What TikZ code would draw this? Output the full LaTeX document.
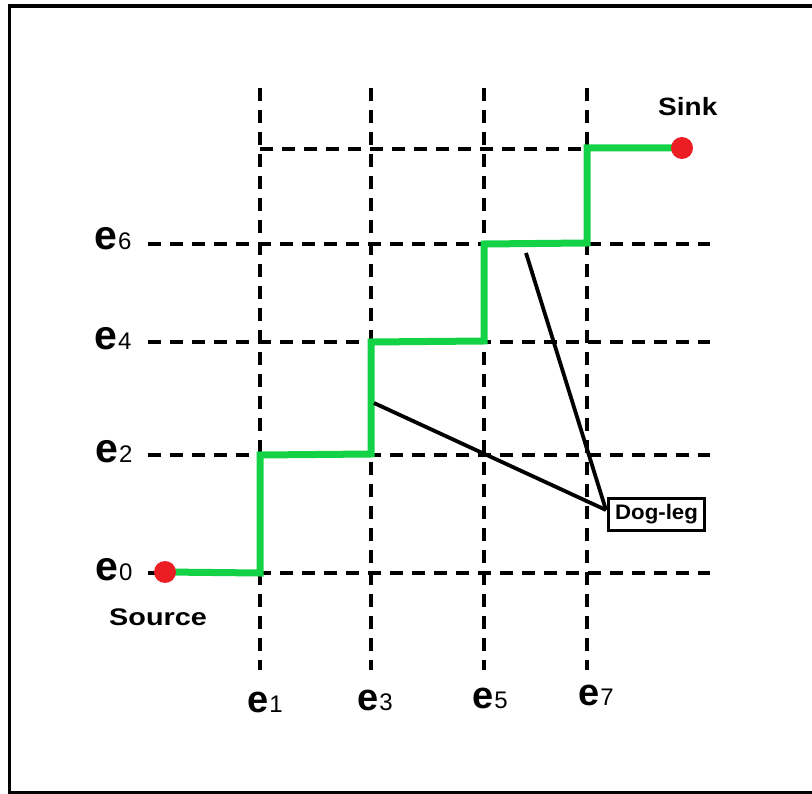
\documentclass[tikz,border=0pt]{standalone}
\usepackage{fontspec}
\setmainfont{Liberation Sans}
\begin{document}
\begin{tikzpicture}[x=1pt,y=-1pt,
  grid/.style={line width=3.2pt,dash pattern=on 13pt off 9pt,black},
  route/.style={line width=7pt,color={rgb,255:red,20;green,210;blue,70},line join=miter,line cap=butt},
  term/.style={circle,fill={rgb,255:red,235;green,30;blue,35},minimum size=22pt,inner sep=0pt},
  elab/.style={inner sep=0pt,anchor=base west},
  word/.style={inner sep=0pt,anchor=base west},
  leader/.style={line width=3.8pt,black}]
\useasboundingbox (0,0) rectangle (812,794);
\draw[line width=3.5pt] (812,6) -- (9.5,6) -- (9.5,792.5) -- (812,792.5);
% vertical dashed lines
\foreach \x in {260,371,484,587} \draw[grid] (\x,88) -- (\x,670);
% horizontal dashed lines
\draw[grid] (260,149) -- (682,149);
\foreach \y in {244,342,455,573} \draw[grid] (148,\y) -- (710,\y);
% route
\coordinate (src) at (165,572);
\coordinate (snk) at (682,148);
\draw[route] (src) -- (260,573) -- (260,455) -- (371,454) -- (371,342) -- (484,341) -- (484,244) -- (587,243) -- (587,148) -- (snk);
\node[term] (source) at (src) {};
\node[term] (sink) at (snk) {};
\node[word] (sourcelab) at (109,625) {\scalebox{1.2}[1]{\fontsize{24}{24}\selectfont\bfseries Source}};
\node[word] (sinklab) at (658,116) {\scalebox{1.12}[1]{\fontsize{25}{25}\selectfont\bfseries Sink}};
% edge labels
\newcommand{\elabel}[2]{{\fontsize{#1}{#1}\selectfont\bfseries e}\hspace{1pt}{\fontsize{24}{24}\selectfont #2}}
\node[elab] (e6) at (94,250) {\elabel{41}{6}};
\node[elab] (e4) at (94,350) {\elabel{41}{4}};
\node[elab] (e2) at (95,463) {\elabel{41}{2}};
\node[elab] (e0) at (95,580) {\elabel{41}{0}};
\node[elab] (e1) at (247,712) {\elabel{38}{1}};
\node[elab] (e3) at (357,710) {\elabel{38}{3}};
\node[elab] (e5) at (472,708) {\elabel{38}{5}};
\node[elab] (e7) at (578,705) {\elabel{38}{7}};
% dog-leg box
\node[draw,line width=3.5pt,minimum width=96pt,minimum height=32pt,inner sep=2pt] (dog) at (656.5,514.5) {\scalebox{1.06}[1]{\fontsize{21}{21}\selectfont\bfseries Dog-leg}};
\coordinate (tip) at (606,510);
\coordinate (a) at (374,403);
\coordinate (b) at (526,253);
\draw[leader] (a) -- (tip);
\draw[leader] (b) -- (tip);
\end{tikzpicture}
\end{document}
